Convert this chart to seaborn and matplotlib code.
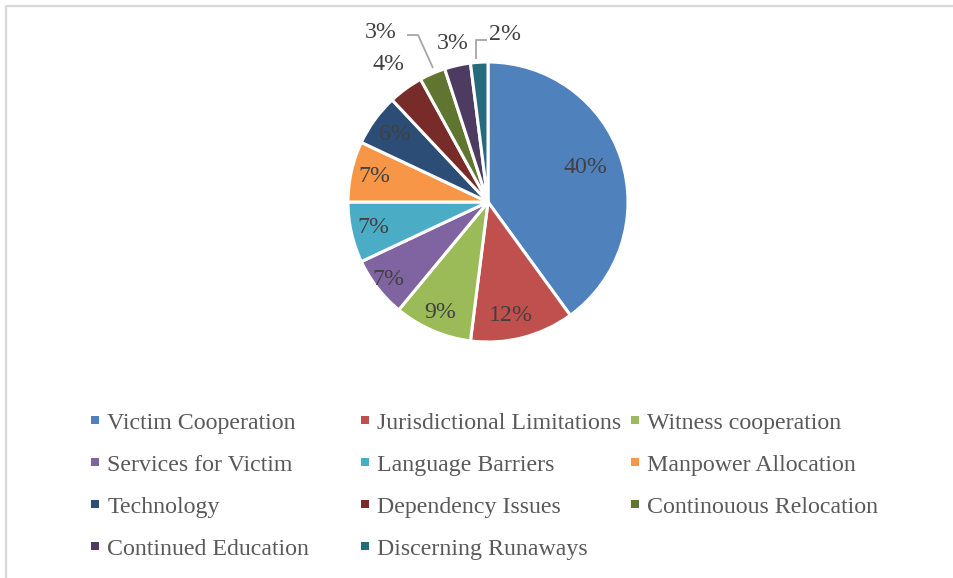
import matplotlib
matplotlib.use('Agg')
import matplotlib.pyplot as plt
import seaborn as sns
import numpy as np
from matplotlib.lines import Line2D

categories = ["Victim Cooperation", "Jurisdictional Limitations", "Witness cooperation",
              "Services for Victim", "Language Barriers", "Manpower Allocation", "Technology",
              "Dependency Issues", "Continouous Relocation", "Continued Education",
              "Discerning Runaways"]
values = [40, 12, 9, 7, 7, 7, 6, 4, 3, 3, 2]
pct_labels = [f"{v}%" for v in values]
colors = ["#4F81BD", "#C0504D", "#9BBB59", "#8064A2", "#4BACC6", "#F79646",
          "#2C4D75", "#772C2A", "#5F7530", "#4D3B62", "#276A7C"]

sns.set_theme(style='white')
plt.rcParams['font.family'] = ['Liberation Serif', 'DejaVu Serif']

W, H = 954, 578
fig = plt.figure(figsize=(9.54, 5.78), dpi=100)
ax = fig.add_axes([0, 0, 1, 1])

def P(x, y):
    # pixel coords (y down) -> data coords (y up)
    return x, H - y

cx, cy = P(488, 202)
R = 140
wedges, _ = ax.pie(values, colors=sns.color_palette(colors), startangle=90,
                   counterclock=False, center=(cx, cy), radius=R, frame=True,
                   wedgeprops=dict(edgecolor='white', linewidth=2.2))
ax.set_xlim(0, W)
ax.set_ylim(0, H)
ax.set_aspect('equal')
ax.axis('off')

FS = 17.2
# label positions
total = sum(values)
cum = np.cumsum([0] + values[:-1])
mid = [90 - 360 * (c + v / 2) / total for c, v in zip(cum, values)]
txt_kw = dict(fontsize=FS, color='#404040', ha='center', va='center')
inside_r = [0.74, 0.83, 0.86, 0.9, 0.84, 0.83, 0.82]
ang_shift = [1.5, -3, 0, 0, 0, 0, 0]
for i in range(7):
    a = np.deg2rad(mid[i] + ang_shift[i])
    ax.text(cx + inside_r[i] * R * np.cos(a), cy + inside_r[i] * R * np.sin(a),
            pct_labels[i], **txt_kw)
# outside labels without leader lines
for i, rr in [(7, 1.21), (9, 1.16)]:
    a = np.deg2rad(mid[i])
    ax.text(cx + rr * R * np.cos(a), cy + rr * R * np.sin(a), pct_labels[i], **txt_kw)
# outside labels with leader lines
ax.text(*P(381, 32), pct_labels[8], **txt_kw)
ax.text(*P(505, 34), pct_labels[10], **txt_kw)
lc = '#A6A6A6'
xs, ys = zip(*[P(407, 35), P(418, 35), P(433, 68)])
ax.plot(xs, ys, color=lc, lw=1.3, solid_capstyle='butt')
xs, ys = zip(*[P(487, 40), P(476, 40), P(476, 59)])
ax.plot(xs, ys, color=lc, lw=1.3, solid_capstyle='butt')

# border
bc = '#D9D9D9'
ax.plot(*zip(P(6, 578), P(6, 5.5), P(954, 5.5)), color=bc, lw=1.6, clip_on=False)

# legend: three columns, row-major order
handles = [Line2D([], [], marker='s', linestyle='none', markersize=5.5,
                  markeredgewidth=0, color=c) for c in colors]
col_x = [95.5, 365, 635.5]
px_per_em = FS * 100 / 72
hl = 0.5
leg_kw = dict(loc='upper left', frameon=False, borderpad=0, borderaxespad=0,
              handlelength=hl, handletextpad=(12 - hl * px_per_em / 2) / px_per_em,
              labelspacing=0.85, fontsize=FS, labelcolor='#595959')
legs = []
for j in range(3):
    idx = list(range(j, len(categories), 3))
    lg = ax.legend([handles[k] for k in idx], [categories[k] for k in idx],
                   bbox_to_anchor=P(col_x[j] - hl * px_per_em / 2, 412),
                   bbox_transform=ax.transData, **leg_kw)
    legs.append(lg)
for lg in legs[:-1]:
    ax.add_artist(lg)

fig.savefig('out.png', dpi=100, facecolor='white')
